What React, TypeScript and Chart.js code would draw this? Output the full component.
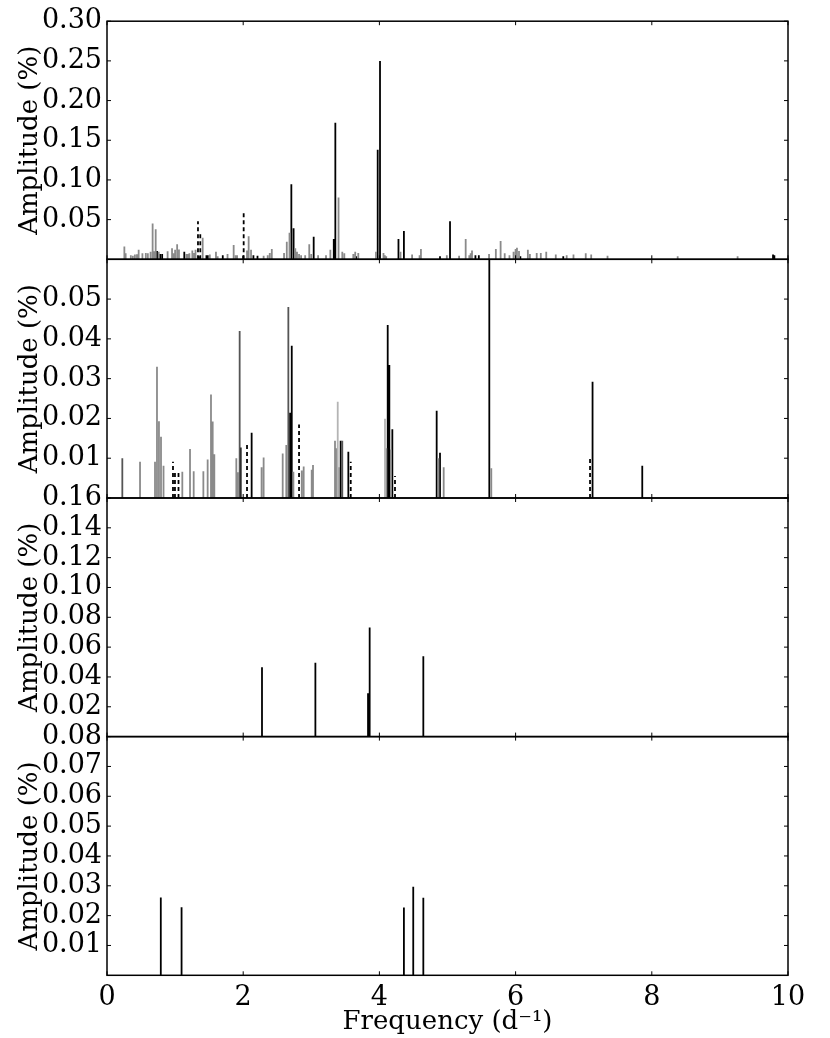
import React, { useEffect, useRef } from 'react';
import { Chart, registerables } from 'chart.js';

Chart.register(...registerables);

// ---------- data ----------
const X_TICKS = [0, 2, 4, 6, 8, 10];

const P1_Y_TICKS = [0.05, 0.1, 0.15, 0.2, 0.25, 0.3];
const P2_Y_TICKS = [0.01, 0.02, 0.03, 0.04, 0.05];
const P3_Y_TICKS = [0.02, 0.04, 0.06, 0.08, 0.1, 0.12, 0.14, 0.16];
const P4_Y_TICKS = [0.01, 0.02, 0.03, 0.04, 0.05, 0.06, 0.07, 0.08];

// [frequency (1/d), amplitude (%)]
const P1_BLACK: [number, number][] = [
  [0.735, 0.0105], [0.78, 0.0067], [0.81, 0.0067], [1.135, 0.0095], [1.35, 0.004],
  [1.46, 0.005], [1.48, 0.005], [1.7, 0.005], [2.0, 0.0045], [2.15, 0.005], [2.21, 0.0045],
  [2.707, 0.0946], [2.74, 0.039], [3.035, 0.0285], [3.33, 0.0255], [3.353, 0.172],
  [3.66, 0.004], [3.975, 0.138], [4.009, 0.25], [4.28, 0.0255], [4.36, 0.0356],
  [4.89, 0.004], [5.037, 0.048], [5.41, 0.005], [5.46, 0.005], [6.07, 0.004],
  [6.7, 0.004], [9.78, 0.006], [9.8, 0.005],
];
const P1_DASHED: [number, number][] = [
  [1.336, 0.048], [1.37, 0.033], [2.007, 0.059],
];
const P1_GREY: [number, number][] = [
  [0.255, 0.016], [0.274, 0.0075], [0.35, 0.005], [0.38, 0.0045], [0.41, 0.006],
  [0.44, 0.0065], [0.465, 0.012], [0.52, 0.0075], [0.57, 0.008], [0.6, 0.0075],
  [0.64, 0.0095], [0.67, 0.045], [0.69, 0.01], [0.715, 0.038], [0.76, 0.0095],
  [0.89, 0.01], [0.955, 0.014], [0.98, 0.0075], [1.0, 0.012], [1.03, 0.019],
  [1.057, 0.0125], [1.165, 0.0067], [1.19, 0.0067], [1.21, 0.0075], [1.253, 0.011],
  [1.28, 0.008], [1.3, 0.012], [1.405, 0.027], [1.51, 0.006], [1.6, 0.0095],
  [1.625, 0.004], [1.77, 0.0067], [1.86, 0.018], [1.89, 0.005], [1.91, 0.005],
  [2.056, 0.011], [2.08, 0.029], [2.115, 0.012], [2.3, 0.0045], [2.36, 0.005],
  [2.39, 0.008], [2.42, 0.013], [2.6, 0.008], [2.64, 0.022], [2.68, 0.0335],
  [2.765, 0.014], [2.79, 0.0095], [2.82, 0.0067], [2.85, 0.005], [2.91, 0.005],
  [2.97, 0.019], [3.0, 0.0067], [3.1, 0.005], [3.216, 0.005], [3.28, 0.012],
  [3.4, 0.078], [3.455, 0.0095], [3.485, 0.0075], [3.617, 0.0067], [3.645, 0.0095],
  [3.69, 0.008], [3.95, 0.0095], [4.06, 0.008], [4.08, 0.005], [4.1, 0.004],
  [4.31, 0.0095], [4.48, 0.006], [4.59, 0.005], [4.61, 0.013], [4.99, 0.005],
  [5.17, 0.0045], [5.267, 0.0255], [5.32, 0.005], [5.34, 0.0075], [5.36, 0.011],
  [5.61, 0.0067], [5.71, 0.013], [5.78, 0.023], [5.84, 0.0075], [5.91, 0.005],
  [5.97, 0.0095], [6.0, 0.013], [6.02, 0.0145], [6.05, 0.0105], [6.18, 0.012],
  [6.21, 0.0067], [6.31, 0.008], [6.37, 0.008], [6.45, 0.0095], [6.59, 0.006],
  [6.75, 0.005], [6.85, 0.006], [7.03, 0.0075], [7.11, 0.006], [7.35, 0.0045],
  [8.38, 0.004], [9.26, 0.004],
];

const P2_BLACK: [number, number][] = [
  [1.963, 0.0127], [2.124, 0.0164], [2.688, 0.0214], [2.713, 0.0383], [3.431, 0.0144],
  [3.544, 0.0116], [4.122, 0.0435], [4.146, 0.0334], [4.19, 0.0173], [4.841, 0.0219],
  [4.89, 0.0114], [5.614, 0.07], [7.13, 0.0292], [7.86, 0.0081],
];
const P2_DARK: [number, number][] = [
  [0.225, 0.01], [1.948, 0.042], [2.663, 0.048], [3.455, 0.0144],
];
const P2_GREY: [number, number][] = [
  [0.485, 0.0091], [0.705, 0.0091], [0.734, 0.033], [0.763, 0.0193], [0.793, 0.0154],
  [0.83, 0.0081], [1.106, 0.0066], [1.219, 0.0123], [1.273, 0.0067], [1.415, 0.0067],
  [1.478, 0.0097], [1.527, 0.026], [1.552, 0.0192], [1.576, 0.011], [1.899, 0.01],
  [1.924, 0.0065], [2.27, 0.0077], [2.3, 0.0102], [2.58, 0.0112], [2.633, 0.0133],
  [2.737, 0.0066], [2.86, 0.0069], [2.888, 0.0079], [3.006, 0.0071], [3.025, 0.0083],
  [3.348, 0.0144], [3.368, 0.0125], [3.407, 0.0077], [4.102, 0.0125], [4.17, 0.0122],
  [4.866, 0.01], [4.944, 0.0077], [5.643, 0.0075],
];
const P2_LIGHT: [number, number][] = [
  [3.388, 0.0242], [4.082, 0.0199],
];
const P2_DASHED: [number, number][] = [
  [0.969, 0.0091], [0.998, 0.0066], [1.05, 0.0066], [2.056, 0.0133], [2.82, 0.0185],
  [3.579, 0.0091], [4.229, 0.0055], [7.093, 0.0098],
];

const P3_BLACK: [number, number][] = [
  [2.276, 0.0465], [3.06, 0.0496], [3.833, 0.0291], [3.857, 0.0731], [4.645, 0.0539],
];

const P4_BLACK: [number, number][] = [
  [0.79, 0.0261], [1.095, 0.0228], [4.36, 0.0227], [4.497, 0.0297], [4.645, 0.026],
];

// ---------- helpers ----------
const FONT = 'DejaVu Serif';
const W = 830;
const H = 1038;
const PLOT_LEFT = 107;
const PLOT_RIGHT = 788;

type Pts = [number, number][];
type Series = { pts: Pts; color: string; dash?: number[] };

function stems(pts: Pts) {
  const out: { x: number; y: number | null }[] = [];
  for (const [f, a] of pts) {
    out.push({ x: f, y: 0 }, { x: f, y: a }, { x: f, y: null });
  }
  return out;
}

type Panel = {
  top: number;
  bottom: number;
  yMax: number;
  yTicks: number[];
  series: Series[];
  showX: boolean;
};

const PANELS: Panel[] = [
  {
    top: 20.7, bottom: 259.3, yMax: 0.3, yTicks: P1_Y_TICKS, showX: false,
    series: [
      { pts: P1_GREY, color: '#8a8a8a' },
      { pts: P1_BLACK, color: '#000000' },
      { pts: P1_DASHED, color: '#000000', dash: [4, 3] },
    ],
  },
  {
    top: 259.3, bottom: 498, yMax: 0.06, yTicks: P2_Y_TICKS, showX: false,
    series: [
      { pts: P2_LIGHT, color: '#b4b4b4' },
      { pts: P2_GREY, color: '#8a8a8a' },
      { pts: P2_DARK, color: '#555555' },
      { pts: P2_BLACK, color: '#000000' },
      { pts: P2_DASHED, color: '#000000', dash: [4, 3] },
    ],
  },
  {
    top: 498, bottom: 736.6, yMax: 0.16, yTicks: P3_Y_TICKS, showX: false,
    series: [{ pts: P3_BLACK, color: '#000000' }],
  },
  {
    top: 736.6, bottom: 975.3, yMax: 0.08, yTicks: P4_Y_TICKS, showX: true,
    series: [{ pts: P4_BLACK, color: '#000000' }],
  },
];

const framePlugin = {
  id: 'frame',
  afterDraw(chart: any) {
    const { ctx, chartArea: a, scales } = chart;
    const TL = 4;
    ctx.save();
    ctx.strokeStyle = '#000';
    ctx.lineWidth = 1.5;
    ctx.strokeRect(a.left, a.top, a.right - a.left, a.bottom - a.top);
    ctx.lineWidth = 1;
    const seg = (x1: number, y1: number, x2: number, y2: number) => {
      ctx.beginPath();
      ctx.moveTo(x1, y1);
      ctx.lineTo(x2, y2);
      ctx.stroke();
    };
    for (const t of scales.y.ticks) {
      const y = scales.y.getPixelForValue(t.value);
      seg(a.left, y, a.left + TL, y);
      seg(a.right, y, a.right - TL, y);
    }
    for (const v of X_TICKS) {
      const x = scales.x.getPixelForValue(v);
      seg(x, a.bottom, x, a.bottom - TL);
      seg(x, a.top, x, a.top + TL);
    }
    ctx.restore();
  },
};

function PanelChart({ panel }: { panel: Panel }) {
  const ref = useRef<HTMLCanvasElement | null>(null);
  useEffect(() => {
    if (!ref.current) return;
    const xH = panel.showX ? H - panel.bottom : 0;
    const chart = new Chart(ref.current, {
      type: 'line',
      data: {
        datasets: panel.series.map((s) => ({
          data: stems(s.pts) as any,
          borderColor: s.color,
          borderWidth: 1.8,
          borderDash: s.dash || [],
          pointRadius: 0,
          spanGaps: false,
          fill: false,
          tension: 0,
        })),
      },
      options: {
        animation: false,
        responsive: false,
        devicePixelRatio: 1,
        events: [],
        layout: {
          padding: {
            left: 0,
            right: W - PLOT_RIGHT,
            top: panel.top,
            bottom: panel.showX ? 0 : H - panel.bottom,
          },
        },
        plugins: { legend: { display: false }, tooltip: { enabled: false } },
        scales: {
          x: {
            type: 'linear',
            min: 0,
            max: 10,
            display: panel.showX,
            afterBuildTicks: (s: any) => {
              s.ticks = X_TICKS.map((v) => ({ value: v }));
            },
            afterFit: (s: any) => {
              s.height = xH;
            },
            grid: { display: false, drawTicks: false },
            border: { display: false },
            ticks: {
              color: '#000',
              padding: 6,
              maxRotation: 0,
              autoSkip: false,
              font: { family: FONT, size: 27 },
              callback: (v: any) => String(v),
            },
            title: {
              display: true,
              text: 'Frequency (d\u207B\u00B9)',
              color: '#000',
              font: { family: FONT, size: 26 },
              padding: { top: 0, bottom: 0 },
            },
          },
          y: {
            type: 'linear',
            min: 0,
            max: panel.yMax,
            afterBuildTicks: (s: any) => {
              s.ticks = panel.yTicks.map((v) => ({ value: v }));
            },
            afterFit: (s: any) => {
              s.width = PLOT_LEFT;
            },
            grid: { display: false, drawTicks: false },
            border: { display: false },
            ticks: {
              color: '#000',
              padding: 5,
              autoSkip: false,
              font: { family: FONT, size: 27 },
              callback: (v: any) => Number(v).toFixed(2),
            },
            title: {
              display: true,
              text: 'Amplitude (%)',
              color: '#000',
              font: { family: FONT, size: 26 },
              padding: { top: 15, bottom: 0 },
            },
          },
        },
      },
      plugins: [framePlugin],
    });
    return () => chart.destroy();
  }, [panel]);
  return (
    <canvas
      ref={ref}
      width={W}
      height={H}
      style={{ position: 'absolute', left: 0, top: 0, width: W, height: H }}
    />
  );
}

export default function App() {
  return (
    <div style={{ position: 'absolute', left: 0, top: 0, width: W, height: H, background: '#fff' }}>
      {PANELS.map((p, i) => (
        <PanelChart key={i} panel={p} />
      ))}
    </div>
  );
}
